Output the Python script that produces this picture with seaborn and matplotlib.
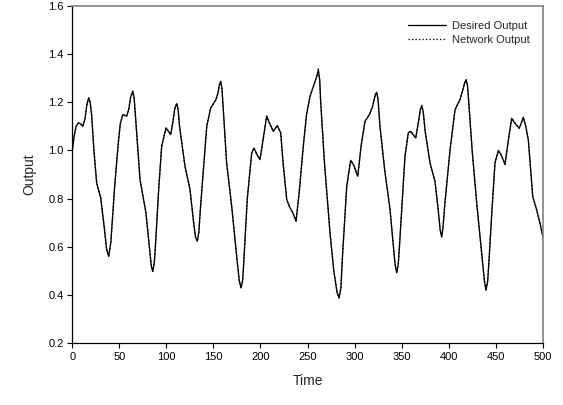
import numpy as np
import pandas as pd
import matplotlib
matplotlib.use('Agg')
import matplotlib.pyplot as plt
import seaborn as sns

time = [0, 2, 4, 6.4, 9, 11.1, 13.5, 15.5, 17.4, 19, 20.5, 23, 25.9, 30.2, 34, 36.5, 38.7,
        41, 45, 48.9, 51, 53.6, 57.8, 60, 62, 64.2, 65.7, 67, 72.0, 78.3, 82, 84, 85.5, 87,
        88, 92, 95.0, 99.6, 102, 104.6, 107, 109, 111.0, 112.5, 114, 119.8, 125.1, 129,
        131, 132.9, 134.5, 136, 142.9, 147.1, 152.7, 155, 156.5, 157.7, 159, 160, 164,
        169.4, 175, 177.5, 179.3, 181, 182, 186, 190.7, 193.1, 196, 199.5, 203, 206.6, 210,
        213.6, 217.9, 221.5, 224, 227.9, 231.4, 234, 237.8, 241, 245.5, 249, 252.7, 258.0,
        260, 261.5, 263, 264, 268, 273.9, 278, 281.5, 283.5, 285.5, 287, 291.7, 295.9, 299,
        303.4, 307, 311.1, 315.7, 319, 322, 323.6, 325, 327, 332, 337.7, 343, 344.8, 346.5,
        348, 353.6, 357.1, 359.7, 365.0, 368, 370, 371.4, 373, 375, 380.2, 385.5, 389, 391,
        392.6, 394, 396, 401.5, 406.8, 412.1, 415, 417, 418.5, 420, 421, 425, 429.8, 435,
        438, 439.7, 441.5, 443, 446, 449.3, 452.8, 456, 459.9, 463, 467.0, 471, 475.1,
        479.4, 482, 484.7, 489.4, 493.6, 497, 500]

desired_output = [1.00, 1.06, 1.10, 1.114, 1.11, 1.10, 1.13, 1.19, 1.218, 1.20, 1.15, 1.00,
                  0.866, 0.803, 0.68, 0.59, 0.561, 0.62, 0.85, 1.031, 1.11, 1.148, 1.142,
                  1.17, 1.22, 1.245, 1.22, 1.15, 0.879, 0.741, 0.60, 0.52, 0.499, 0.53, 0.58,
                  0.85, 1.017, 1.093, 1.08, 1.066, 1.12, 1.175, 1.194, 1.17, 1.10, 0.934,
                  0.838, 0.70, 0.64, 0.624, 0.66, 0.75, 1.10, 1.176, 1.211, 1.24, 1.275, 1.286,
                  1.26, 1.20, 0.95, 0.769, 0.55, 0.46, 0.43, 0.46, 0.52, 0.80, 0.99, 1.01,
                  0.985, 0.962, 1.05, 1.142, 1.11, 1.079, 1.103, 1.073, 0.95, 0.796, 0.762,
                  0.745, 0.707, 0.82, 1.017, 1.15, 1.224, 1.286, 1.31, 1.332, 1.29, 1.20, 0.95,
                  0.658, 0.50, 0.41, 0.389, 0.43, 0.55, 0.852, 0.959, 0.94, 0.893, 1.02, 1.121,
                  1.148, 1.18, 1.23, 1.241, 1.21, 1.10, 0.92, 0.755, 0.53, 0.493, 0.53, 0.62,
                  0.976, 1.073, 1.079, 1.052, 1.12, 1.17, 1.186, 1.16, 1.08, 0.948, 0.872,
                  0.75, 0.67, 0.642, 0.68, 0.78, 1.003, 1.169, 1.211, 1.25, 1.28, 1.293, 1.27,
                  1.22, 1.00, 0.783, 0.58, 0.46, 0.42, 0.46, 0.55, 0.75, 0.95, 1.0, 0.98,
                  0.942, 1.03, 1.133, 1.11, 1.092, 1.137, 1.10, 1.043, 0.808, 0.753, 0.70,
                  0.645]

# network output sits on top of the desired curve almost everywhere
network_output = list(desired_output)
network_output[time.index(261.5)] = 1.338

xticks = list(range(0, 501, 50))
yticks = [0.2, 0.4, 0.6, 0.8, 1.0, 1.2, 1.4, 1.6]

sns.set_style('white')
plt.rcParams['font.family'] = ['Liberation Sans', 'DejaVu Sans']

df = pd.DataFrame({'Time': time, 'Desired': desired_output, 'Network': network_output})

fig = plt.figure(figsize=(5.63, 4.05), dpi=100)
ax = fig.add_axes([0.1284, 0.1519, 0.9640 - 0.1284, 0.986 - 0.1519])

sns.lineplot(data=df, x='Time', y='Desired', color='black', linewidth=0.95,
             label='Desired Output', ax=ax)
sns.lineplot(data=df, x='Time', y='Network', color='black', linewidth=0.95,
             linestyle=':', label='Network Output', ax=ax)

ax.set_xlim(0, 500)
ax.set_ylim(0.2, 1.6)
ax.set_xticks(xticks)
ax.set_yticks(yticks)
ax.set_yticklabels([f'{v:.1f}' for v in yticks])
ax.tick_params(axis='both', direction='out', length=3.5, width=0.8, labelsize=8,
               left=True, bottom=True, pad=2.5, colors='black')
ax.set_xlabel('Time', fontsize=10, labelpad=9)
ax.set_ylabel('Output', fontsize=10, labelpad=9)

for s in ['left', 'bottom']:
    ax.spines[s].set_color('black')
    ax.spines[s].set_linewidth(0.9)
for s in ['top', 'right']:
    ax.spines[s].set_color('#808080')
    ax.spines[s].set_linewidth(1.2)

ax.legend(loc='upper right', bbox_to_anchor=(0.985, 0.97), frameon=False, fontsize=8,
          handlelength=3.4, handletextpad=0.6, labelspacing=0.3, borderpad=0)

fig.savefig('out.png', dpi=100)
